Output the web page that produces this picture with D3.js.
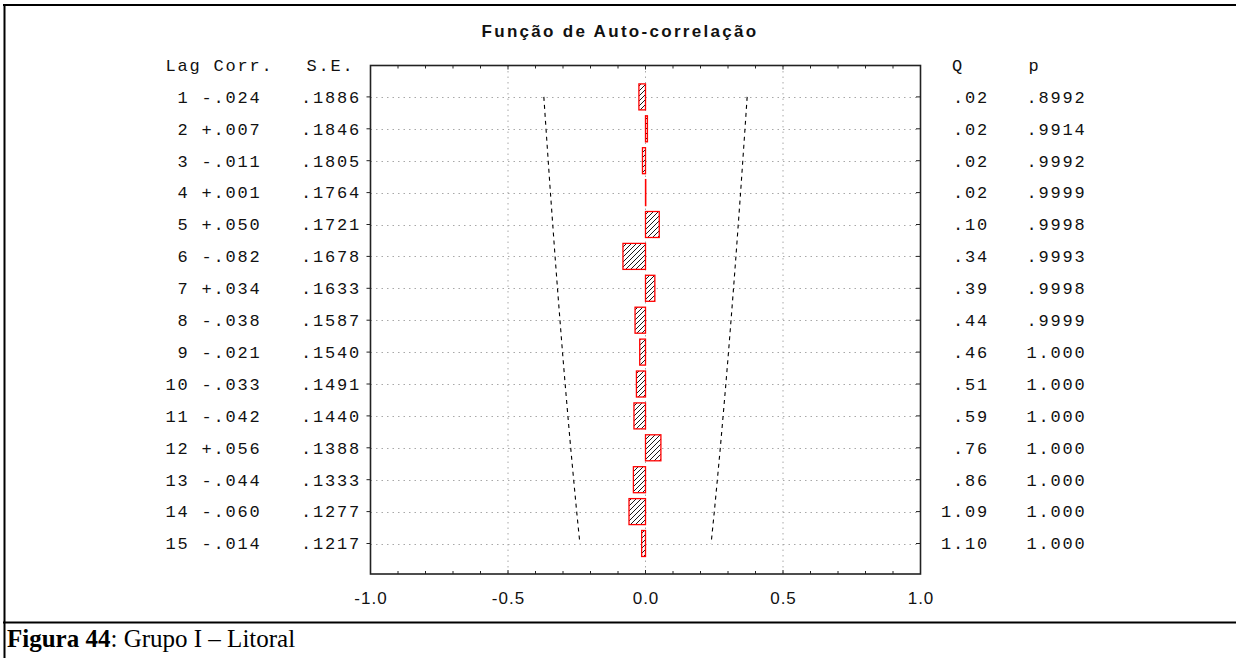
<!DOCTYPE html>
<html>
<head>
<meta charset="utf-8">
<script src="https://cdn.jsdelivr.net/npm/d3@7"></script>
<style>
  html, body { margin: 0; padding: 0; background: #fff; }
  svg { display: block; }
</style>
</head>
<body>
<svg id="chart" width="1236" height="658"></svg>
<script>
// ---- data ----
const lags = [1, 2, 3, 4, 5, 6, 7, 8, 9, 10, 11, 12, 13, 14, 15];
const corr = [-0.024, 0.007, -0.011, 0.001, 0.050, -0.082, 0.034, -0.038, -0.021, -0.033, -0.042, 0.056, -0.044, -0.060, -0.014];
const stdErr = [0.1886, 0.1846, 0.1805, 0.1764, 0.1721, 0.1678, 0.1633, 0.1587, 0.1540, 0.1491, 0.1440, 0.1388, 0.1333, 0.1277, 0.1217];
const qStat = [0.02, 0.02, 0.02, 0.02, 0.10, 0.34, 0.39, 0.44, 0.46, 0.51, 0.59, 0.76, 0.86, 1.09, 1.10];
const pValue = [0.8992, 0.9914, 0.9992, 0.9999, 0.9998, 0.9993, 0.9998, 0.9999, 1.000, 1.000, 1.000, 1.000, 1.000, 1.000, 1.000];
const xTickValues = [-1.0, -0.5, 0.0, 0.5, 1.0];
const xTickLabels = ["-1.0", "-0.5", "0.0", "0.5", "1.0"];
const titleText = "Função de Auto-correlação";
const captionBold = "Figura 44";
const captionRest = ": Grupo I – Litoral";

// ---- layout ----
const svg = d3.select("#chart");
const frame = { left: 370.5, right: 920.5, top: 65.5, bottom: 574 };
const x = d3.scaleLinear().domain([-1, 1]).range([frame.left, frame.right]);
const y = d3.scaleLinear().domain([0, 16]).range([65, 575.4]);
const rowH = 26;
const mono = "'Liberation Mono', 'DejaVu Sans Mono', monospace";
const monoSize = 17, monoLS = 1.8, adv = monoSize * 0.6 + monoLS;

// hatch pattern
const defs = svg.append("defs");
const pat = defs.append("pattern").attr("id", "hatch")
  .attr("patternUnits", "userSpaceOnUse").attr("width", 5).attr("height", 5);
pat.append("rect").attr("width", 5).attr("height", 5).attr("fill", "#fff");
pat.append("path").attr("d", "M0,5 L5,0 M-1,1 L1,-1 M4,6 L6,4")
  .attr("stroke", "#000").attr("stroke-width", 0.9);

// outer borders
svg.append("line").attr("x1", 3).attr("x2", 1236).attr("y1", 5).attr("y2", 5)
  .attr("stroke", "#000").attr("stroke-width", 2);
svg.append("line").attr("x1", 4.5).attr("x2", 4.5).attr("y1", 4).attr("y2", 658)
  .attr("stroke", "#000").attr("stroke-width", 2);
svg.append("line").attr("x1", 3).attr("x2", 1236).attr("y1", 622.5).attr("y2", 622.5)
  .attr("stroke", "#000").attr("stroke-width", 2);

// title
svg.append("text").attr("x", 620).attr("y", 37)
  .attr("text-anchor", "middle")
  .attr("font-family", "'Liberation Sans', Arial, sans-serif")
  .attr("font-weight", "bold").attr("font-size", 17)
  .attr("letter-spacing", 2.3).attr("fill", "#111")
  .text(titleText);

// grid lines
const grid = svg.append("g").attr("stroke", "#a8a8a8").attr("stroke-width", 1)
  .attr("stroke-dasharray", "1.5,4");
grid.selectAll("line.h").data(lags).join("line").attr("class", "h")
  .attr("x1", frame.left).attr("x2", frame.right)
  .attr("y1", d => Math.round(y(d)) + 0.5).attr("y2", d => Math.round(y(d)) + 0.5);
grid.selectAll("line.v").data([-0.5, 0, 0.5]).join("line").attr("class", "v")
  .attr("x1", d => x(d)).attr("x2", d => x(d))
  .attr("y1", frame.top).attr("y2", frame.bottom);

// confidence limits (±1.96 S.E.)
const lim = d3.line().x(d => d[0]).y(d => d[1]);
[-1, 1].forEach(s => {
  svg.append("path")
    .attr("d", lim(lags.map((l, i) => [x(s * 1.96 * stdErr[i]), y(l)])))
    .attr("fill", "none").attr("stroke", "#000").attr("stroke-width", 1.1)
    .attr("stroke-dasharray", "4,4");
});

// bars
svg.append("g").selectAll("rect").data(lags).join("rect")
  .attr("x", (d, i) => Math.min(x(0), x(corr[i])))
  .attr("width", (d, i) => Math.abs(x(corr[i]) - x(0)))
  .attr("y", d => y(d) - rowH / 2)
  .attr("height", rowH)
  .attr("fill", "url(#hatch)")
  .attr("stroke", "#ff0000").attr("stroke-width", 1.3);

// frame
svg.append("rect").attr("x", frame.left).attr("y", frame.top)
  .attr("width", frame.right - frame.left).attr("height", frame.bottom - frame.top)
  .attr("fill", "none").attr("stroke", "#222").attr("stroke-width", 1.6);

// x ticks (top & bottom, inward)
const minor = d3.range(-10, 11).map(v => v / 10);
const isMajor = d => Math.abs(d * 2 - Math.round(d * 2)) < 1e-6;
const tk = svg.append("g").attr("stroke", "#222").attr("stroke-width", 1);
tk.selectAll("line.t").data(minor).join("line").attr("class", "t")
  .attr("x1", d => x(d)).attr("x2", d => x(d))
  .attr("y1", frame.top).attr("y2", d => frame.top + (isMajor(d) ? 4 : 3));
tk.selectAll("line.b").data(minor).join("line").attr("class", "b")
  .attr("x1", d => x(d)).attr("x2", d => x(d))
  .attr("y1", frame.bottom).attr("y2", d => frame.bottom - (isMajor(d) ? 4 : 3));
// y ticks
tk.selectAll("line.l").data(lags).join("line").attr("class", "l")
  .attr("x1", frame.left - 4).attr("x2", frame.left)
  .attr("y1", d => y(d)).attr("y2", d => y(d));
tk.selectAll("line.r").data(lags).join("line").attr("class", "r")
  .attr("x1", frame.right - 4.5).attr("x2", frame.right)
  .attr("y1", d => y(d)).attr("y2", d => y(d));

// x tick labels
svg.append("g").selectAll("text").data(xTickValues).join("text")
  .attr("x", d => x(d) + 0.5).attr("y", 604)
  .attr("text-anchor", "middle")
  .attr("font-family", "'Liberation Sans', Arial, sans-serif")
  .attr("font-size", 17).attr("letter-spacing", 1).attr("fill", "#111")
  .text((d, i) => xTickLabels[i]);

// table columns
const fmtCorr = v => (v < 0 ? "-" : "+") + "." + String(Math.round(Math.abs(v) * 1000)).padStart(3, "0");
const fmtSE = v => "." + String(Math.round(v * 10000)).padStart(4, "0");
const fmtQ = v => v < 1 ? "." + String(Math.round(v * 100)).padStart(2, "0") : v.toFixed(2);
const fmtP = v => v < 1 ? "." + String(Math.round(v * 10000)).padStart(4, "0") : v.toFixed(3);

const tg = svg.append("g").attr("font-family", mono).attr("font-size", monoSize)
  .attr("letter-spacing", monoLS).attr("fill", "#111");
const base = d => y(d) + 5.8;

// headers
tg.append("text").attr("x", 165.5).attr("y", base(0)).text("Lag Corr.");
tg.append("text").attr("x", 306.5).attr("y", base(0)).text("S.E.");
tg.append("text").attr("x", 952).attr("y", base(0)).text("Q");
tg.append("text").attr("x", 1028.5).attr("y", base(0)).text("p");

// rows
tg.selectAll("text.lag").data(lags).join("text").attr("class", "lag")
  .attr("x", d => 165.5 + (2 - String(d).length) * adv).attr("y", base).text(d => String(d));
tg.selectAll("text.corr").data(lags).join("text").attr("class", "corr")
  .attr("x", 201.5).attr("y", base).text((d, i) => fmtCorr(corr[i]));
tg.selectAll("text.se").data(lags).join("text").attr("class", "se")
  .attr("x", 301).attr("y", base).text((d, i) => fmtSE(stdErr[i]));
tg.selectAll("text.q").data(lags).join("text").attr("class", "q")
  .attr("x", (d, i) => 941 + (4 - fmtQ(qStat[i]).length) * adv).attr("y", base).text((d, i) => fmtQ(qStat[i]));
tg.selectAll("text.p").data(lags).join("text").attr("class", "p")
  .attr("x", 1026.5).attr("y", base).text((d, i) => fmtP(pValue[i]));

// caption
const cap = svg.append("text").attr("x", 7).attr("y", 647)
  .attr("font-family", "'Liberation Serif', 'Times New Roman', serif")
  .attr("font-size", 25).attr("fill", "#000");
cap.append("tspan").attr("font-weight", "bold").text(captionBold);
cap.append("tspan").text(captionRest);
</script>
</body>
</html>
